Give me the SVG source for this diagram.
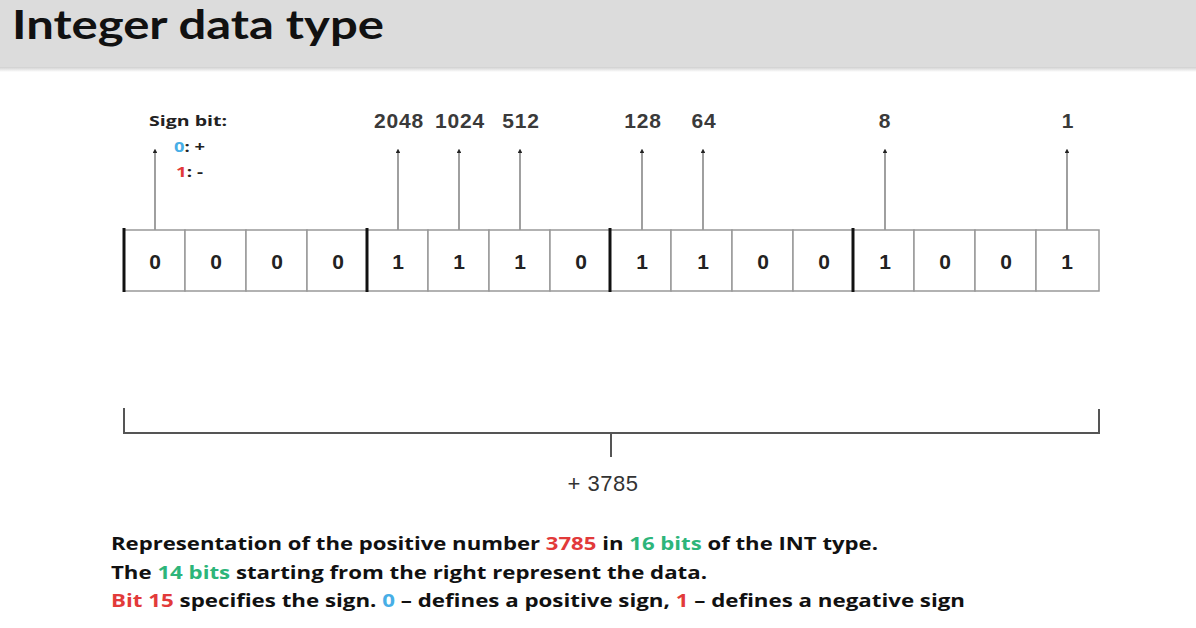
<svg xmlns="http://www.w3.org/2000/svg" width="1196" height="628" viewBox="0 0 1196 628">
<defs>
<linearGradient id="shadow" x1="0" y1="0" x2="0" y2="1">
<stop offset="0" stop-color="#cfcfcf"/>
<stop offset="1" stop-color="#ffffff"/>
</linearGradient>
<marker id="ah" viewBox="0 0 6 6" refX="3" refY="3" markerWidth="3" markerHeight="3" orient="auto-start-reverse">
<path d="M0,0 L6,3 L0,6 z" fill="#222"/>
</marker>
</defs>
<style>
.title{font-family:Lato,"Open Sans",sans-serif;font-weight:700;font-size:41px;fill:#111}
.cell{fill:#fff;stroke:#999;stroke-width:1.5}
.sep{stroke:#111;stroke-width:3}
.digit{font-family:"Liberation Sans",Arial,sans-serif;font-weight:700;font-size:21px;fill:#222;text-anchor:middle}
.wt{font-family:"Liberation Sans",Arial,sans-serif;font-weight:700;font-size:21px;fill:#3a3a3a;text-anchor:middle;letter-spacing:0.8px}
.sum{font-family:"Liberation Sans",Arial,sans-serif;font-size:22px;fill:#333;text-anchor:middle;letter-spacing:0.5px}
.arrow{stroke:#888;stroke-width:1.6;fill:none;marker-end:url(#ah)}
.br{stroke:#555;stroke-width:2;fill:none}
.sign{font-family:"Open Sans",sans-serif;font-weight:700;font-size:15px;fill:#222}
.desc{font-family:"Open Sans",sans-serif;font-weight:700;font-size:17px;fill:#111}
.red{fill:#e23a3a}
.green{fill:#2db57a}
.blue{fill:#47aee6}
</style>
<rect width="1196" height="628" fill="#fff"/>
<g id="header">
<rect x="0" y="0" width="1196" height="67" fill="#dcdcdc"/>
<rect x="0" y="67" width="1196" height="5" fill="url(#shadow)"/>
<text class="title" x="12" y="39" textLength="372" lengthAdjust="spacingAndGlyphs">Integer data type</text>
</g>
<g id="connectors">
<line class="arrow" x1="155" y1="230" x2="155" y2="151"/>
<line class="arrow" x1="398" y1="230" x2="398" y2="151"/>
<line class="arrow" x1="459" y1="230" x2="459" y2="151"/>
<line class="arrow" x1="520" y1="230" x2="520" y2="151"/>
<line class="arrow" x1="642" y1="230" x2="642" y2="151"/>
<line class="arrow" x1="703" y1="230" x2="703" y2="151"/>
<line class="arrow" x1="885" y1="230" x2="885" y2="151"/>
<line class="arrow" x1="1067" y1="230" x2="1067" y2="151"/>
</g>
<g id="sign-label">
<text class="sign" x="149" y="126" textLength="78" lengthAdjust="spacingAndGlyphs">Sign bit:</text>
<text class="sign" x="174" y="152" textLength="31" lengthAdjust="spacingAndGlyphs"><tspan class="blue">0</tspan>: +</text>
<text class="sign" x="176" y="177" textLength="27" lengthAdjust="spacingAndGlyphs"><tspan class="red">1</tspan>: -</text>
</g>
<g id="weights">
<text class="wt" x="399" y="128">2048</text>
<text class="wt" x="460" y="128">1024</text>
<text class="wt" x="521" y="128">512</text>
<text class="wt" x="643" y="128">128</text>
<text class="wt" x="704" y="128">64</text>
<text class="wt" x="885" y="128">8</text>
<text class="wt" x="1068" y="128">1</text>
</g>
<g id="bits">
<rect class="cell" x="124" y="230" width="61" height="61"/>
<rect class="cell" x="185" y="230" width="61" height="61"/>
<rect class="cell" x="246" y="230" width="61" height="61"/>
<rect class="cell" x="307" y="230" width="60" height="61"/>
<rect class="cell" x="367" y="230" width="61" height="61"/>
<rect class="cell" x="428" y="230" width="61" height="61"/>
<rect class="cell" x="489" y="230" width="61" height="61"/>
<rect class="cell" x="550" y="230" width="60" height="61"/>
<rect class="cell" x="610" y="230" width="61" height="61"/>
<rect class="cell" x="671" y="230" width="61" height="61"/>
<rect class="cell" x="732" y="230" width="61" height="61"/>
<rect class="cell" x="793" y="230" width="60" height="61"/>
<rect class="cell" x="853" y="230" width="61" height="61"/>
<rect class="cell" x="914" y="230" width="61" height="61"/>
<rect class="cell" x="975" y="230" width="61" height="61"/>
<rect class="cell" x="1036" y="230" width="63" height="61"/>
<line class="sep" x1="124" y1="228" x2="124" y2="292"/>
<line class="sep" x1="367" y1="228" x2="367" y2="292"/>
<line class="sep" x1="610" y1="228" x2="610" y2="292"/>
<line class="sep" x1="853" y1="228" x2="853" y2="292"/>
<text class="digit" x="155" y="269">0</text>
<text class="digit" x="216" y="269">0</text>
<text class="digit" x="277" y="269">0</text>
<text class="digit" x="338" y="269">0</text>
<text class="digit" x="398" y="269">1</text>
<text class="digit" x="459" y="269">1</text>
<text class="digit" x="520" y="269">1</text>
<text class="digit" x="581" y="269">0</text>
<text class="digit" x="642" y="269">1</text>
<text class="digit" x="703" y="269">1</text>
<text class="digit" x="763" y="269">0</text>
<text class="digit" x="824" y="269">0</text>
<text class="digit" x="885" y="269">1</text>
<text class="digit" x="945" y="269">0</text>
<text class="digit" x="1006" y="269">0</text>
<text class="digit" x="1067" y="269">1</text>
</g>
<g id="bracket">
<path class="br" d="M124,408 V433 H1099 V409"/>
<line class="br" x1="611" y1="433" x2="611" y2="457"/>
<text class="sum" x="603" y="491">+ 3785</text>
</g>
<g id="description">
<text class="desc" x="111" y="550" textLength="767" lengthAdjust="spacingAndGlyphs">Representation of the positive number <tspan class="red">3785</tspan> in <tspan class="green">16 bits</tspan> of the INT type.</text>
<text class="desc" x="111" y="579" textLength="596" lengthAdjust="spacingAndGlyphs">The <tspan class="green">14 bits</tspan> starting from the right represent the data.</text>
<text class="desc" x="111" y="607" textLength="854" lengthAdjust="spacingAndGlyphs"><tspan class="red">Bit 15</tspan> specifies the sign. <tspan class="blue">0</tspan> – defines a positive sign, <tspan class="red">1</tspan> – defines a negative sign</text>
</g>
</svg>
